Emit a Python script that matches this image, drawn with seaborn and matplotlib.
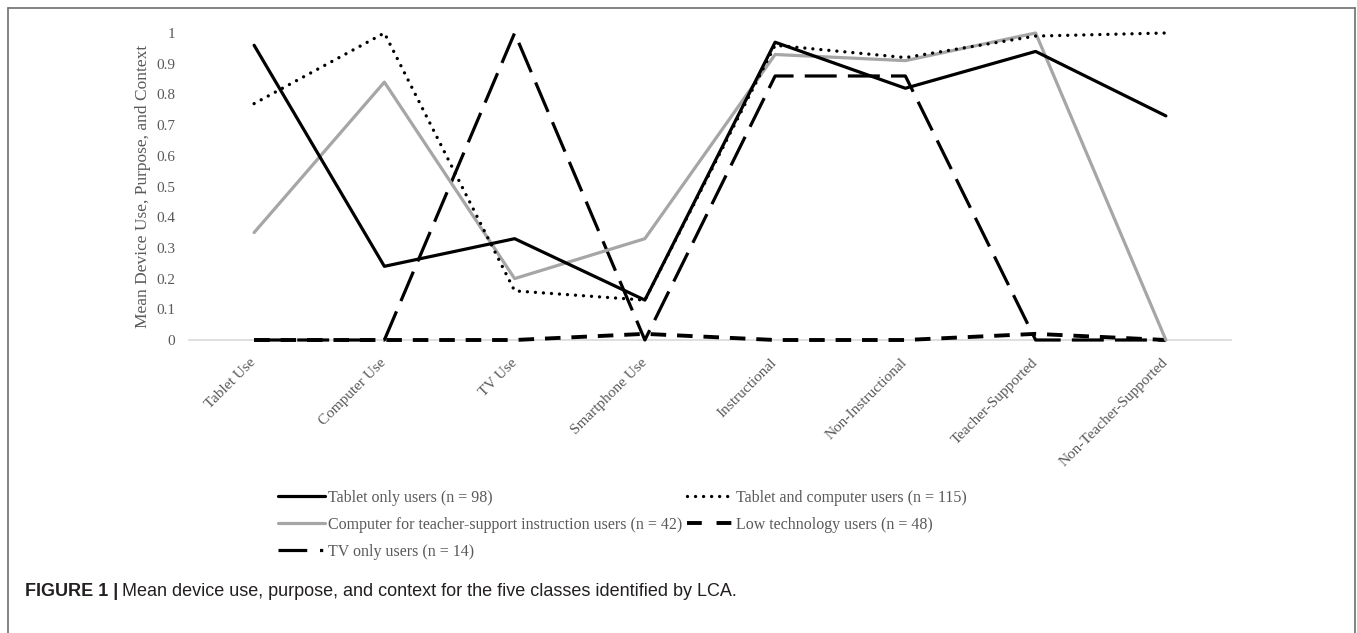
import numpy as np
import pandas as pd
import matplotlib
matplotlib.use("Agg")
import matplotlib.pyplot as plt
import seaborn as sns
from matplotlib.lines import Line2D

# Chart data
categories = ["Tablet Use", "Computer Use", "TV Use", "Smartphone Use",
              "Instructional", "Non-Instructional", "Teacher-Supported",
              "Non-Teacher-Supported"]
tablet_only = [0.96, 0.24, 0.33, 0.13, 0.97, 0.82, 0.94, 0.73]
tablet_computer = [0.77, 1.00, 0.16, 0.13, 0.96, 0.92, 0.99, 1.00]
computer_teacher = [0.35, 0.84, 0.20, 0.33, 0.93, 0.91, 1.00, 0.00]
low_tech = [0.00, 0.00, 0.00, 0.02, 0.00, 0.00, 0.02, 0.00]
tv_only = [0.00, 0.00, 1.00, 0.00, 0.86, 0.86, 0.00, 0.00]

label_tablet = "Tablet only users (n = 98)"
label_tc = "Tablet and computer users (n = 115)"
label_ct = "Computer for teacher-support instruction users (n = 42)"
label_low = "Low technology users (n = 48)"
label_tv = "TV only users (n = 14)"

yticks = [0, 0.1, 0.2, 0.3, 0.4, 0.5, 0.6, 0.7, 0.8, 0.9, 1]
ytick_labels = ["0", "0.1", "0.2", "0.3", "0.4", "0.5", "0.6", "0.7", "0.8", "0.9", "1"]

sns.set_style("white")
plt.rcParams['font.family'] = ['Liberation Serif', 'DejaVu Serif']

W, H = 1357, 633
fig = plt.figure(figsize=(W / 100, H / 100), dpi=100)
ax = fig.add_axes([189 / W, 1 - 340 / H, 1042 / W, 307 / H])

grey_txt = "#595959"
lw = 2.3

# series: (values, label, color, linestyle, linewidth)
series = [
    (low_tech, label_low, "black", (0, (4, 2.8)), 2.8),
    (tv_only, label_tv, "black", (0, (10, 3.5)), lw),
    (computer_teacher, label_ct, "#a6a6a6", "-", lw),
    (tablet_computer, label_tc, "black", (0, (0.01, 2.4)), 2.4),
    (tablet_only, label_tablet, "black", "-", lw),
]

for vals, lab, col, ls, w in series:
    sns.lineplot(x=categories, y=vals, ax=ax, color=col, linestyle=ls,
                 linewidth=w, sort=False, clip_on=False,
                 dash_capstyle="round" if lab == label_tc else "butt",
                 solid_capstyle="round")

ax.set_xlim(-0.5, 7.5)
ax.set_ylim(0, 1)
ax.set_yticks(yticks)
ax.set_yticklabels(ytick_labels)
ax.tick_params(axis="both", length=0, labelsize=11, colors=grey_txt)
ax.tick_params(axis="y", pad=10)
ax.tick_params(axis="x", pad=15)
for t in ax.get_xticklabels():
    t.set_rotation(45)
    t.set_ha("right")
    t.set_va("center")
    t.set_rotation_mode("anchor")

for s in ["top", "right", "left"]:
    ax.spines[s].set_visible(False)
ax.spines["bottom"].set_color("#d9d9d9")
ax.spines["bottom"].set_linewidth(1.2)
ax.spines["bottom"].set_zorder(0)

ax.set_xlabel("")
ax.set_ylabel("Mean Device Use, Purpose, and Context", fontsize=12.5,
              color=grey_txt, labelpad=4)

# legend
handles = [
    Line2D([], [], color="black", lw=lw, linestyle="-"),
    Line2D([], [], color="#a6a6a6", lw=lw, linestyle="-"),
    Line2D([], [], color="black", lw=lw, linestyle=(0, (9, 4, 1, 4))),
    Line2D([], [], color="black", lw=2.4, linestyle=(0, (0.01, 2.4)),
           dash_capstyle="round"),
    Line2D([], [], color="black", lw=2.8, linestyle=(0, (3.8, 3.8))),
]
labels = [label_tablet, label_ct, label_tv, label_tc, label_low]
leg = fig.legend(handles, labels, loc="upper left",
                 bbox_to_anchor=(278 / W, 1 - 490 / H), ncol=2,
                 frameon=False, fontsize=11.5, handlelength=2.95,
                 handletextpad=0.15, columnspacing=0.3, labelspacing=0.68,
                 borderpad=0, borderaxespad=0)
for t in leg.get_texts():
    t.set_color(grey_txt)

# figure frame (top, left, right)
fc = "#6e6e6e"
fig.add_artist(Line2D([8 / W, 8 / W], [0, 1 - 8 / H], color=fc, lw=1.2))
fig.add_artist(Line2D([8 / W, 1355 / W], [1 - 8 / H, 1 - 8 / H], color=fc, lw=1.2))
fig.add_artist(Line2D([1355 / W, 1355 / W], [0, 1 - 8 / H], color=fc, lw=1.2))

# caption
cap_y = 1 - 591 / H
t1 = fig.text(25 / W, cap_y, "FIGURE 1 |", fontsize=13, fontweight="bold",
              family=["Liberation Sans", "DejaVu Sans"], color="#231f20",
              va="center", ha="left")
fig.canvas.draw()
bb = t1.get_window_extent(renderer=fig.canvas.get_renderer())
fig.text(bb.x1 / W + 4 / W, cap_y,
         "Mean device use, purpose, and context for the five classes identified by LCA.",
         fontsize=13, family=["Liberation Sans", "DejaVu Sans"], color="#231f20",
         va="center", ha="left")

fig.savefig("out.png", dpi=100)
